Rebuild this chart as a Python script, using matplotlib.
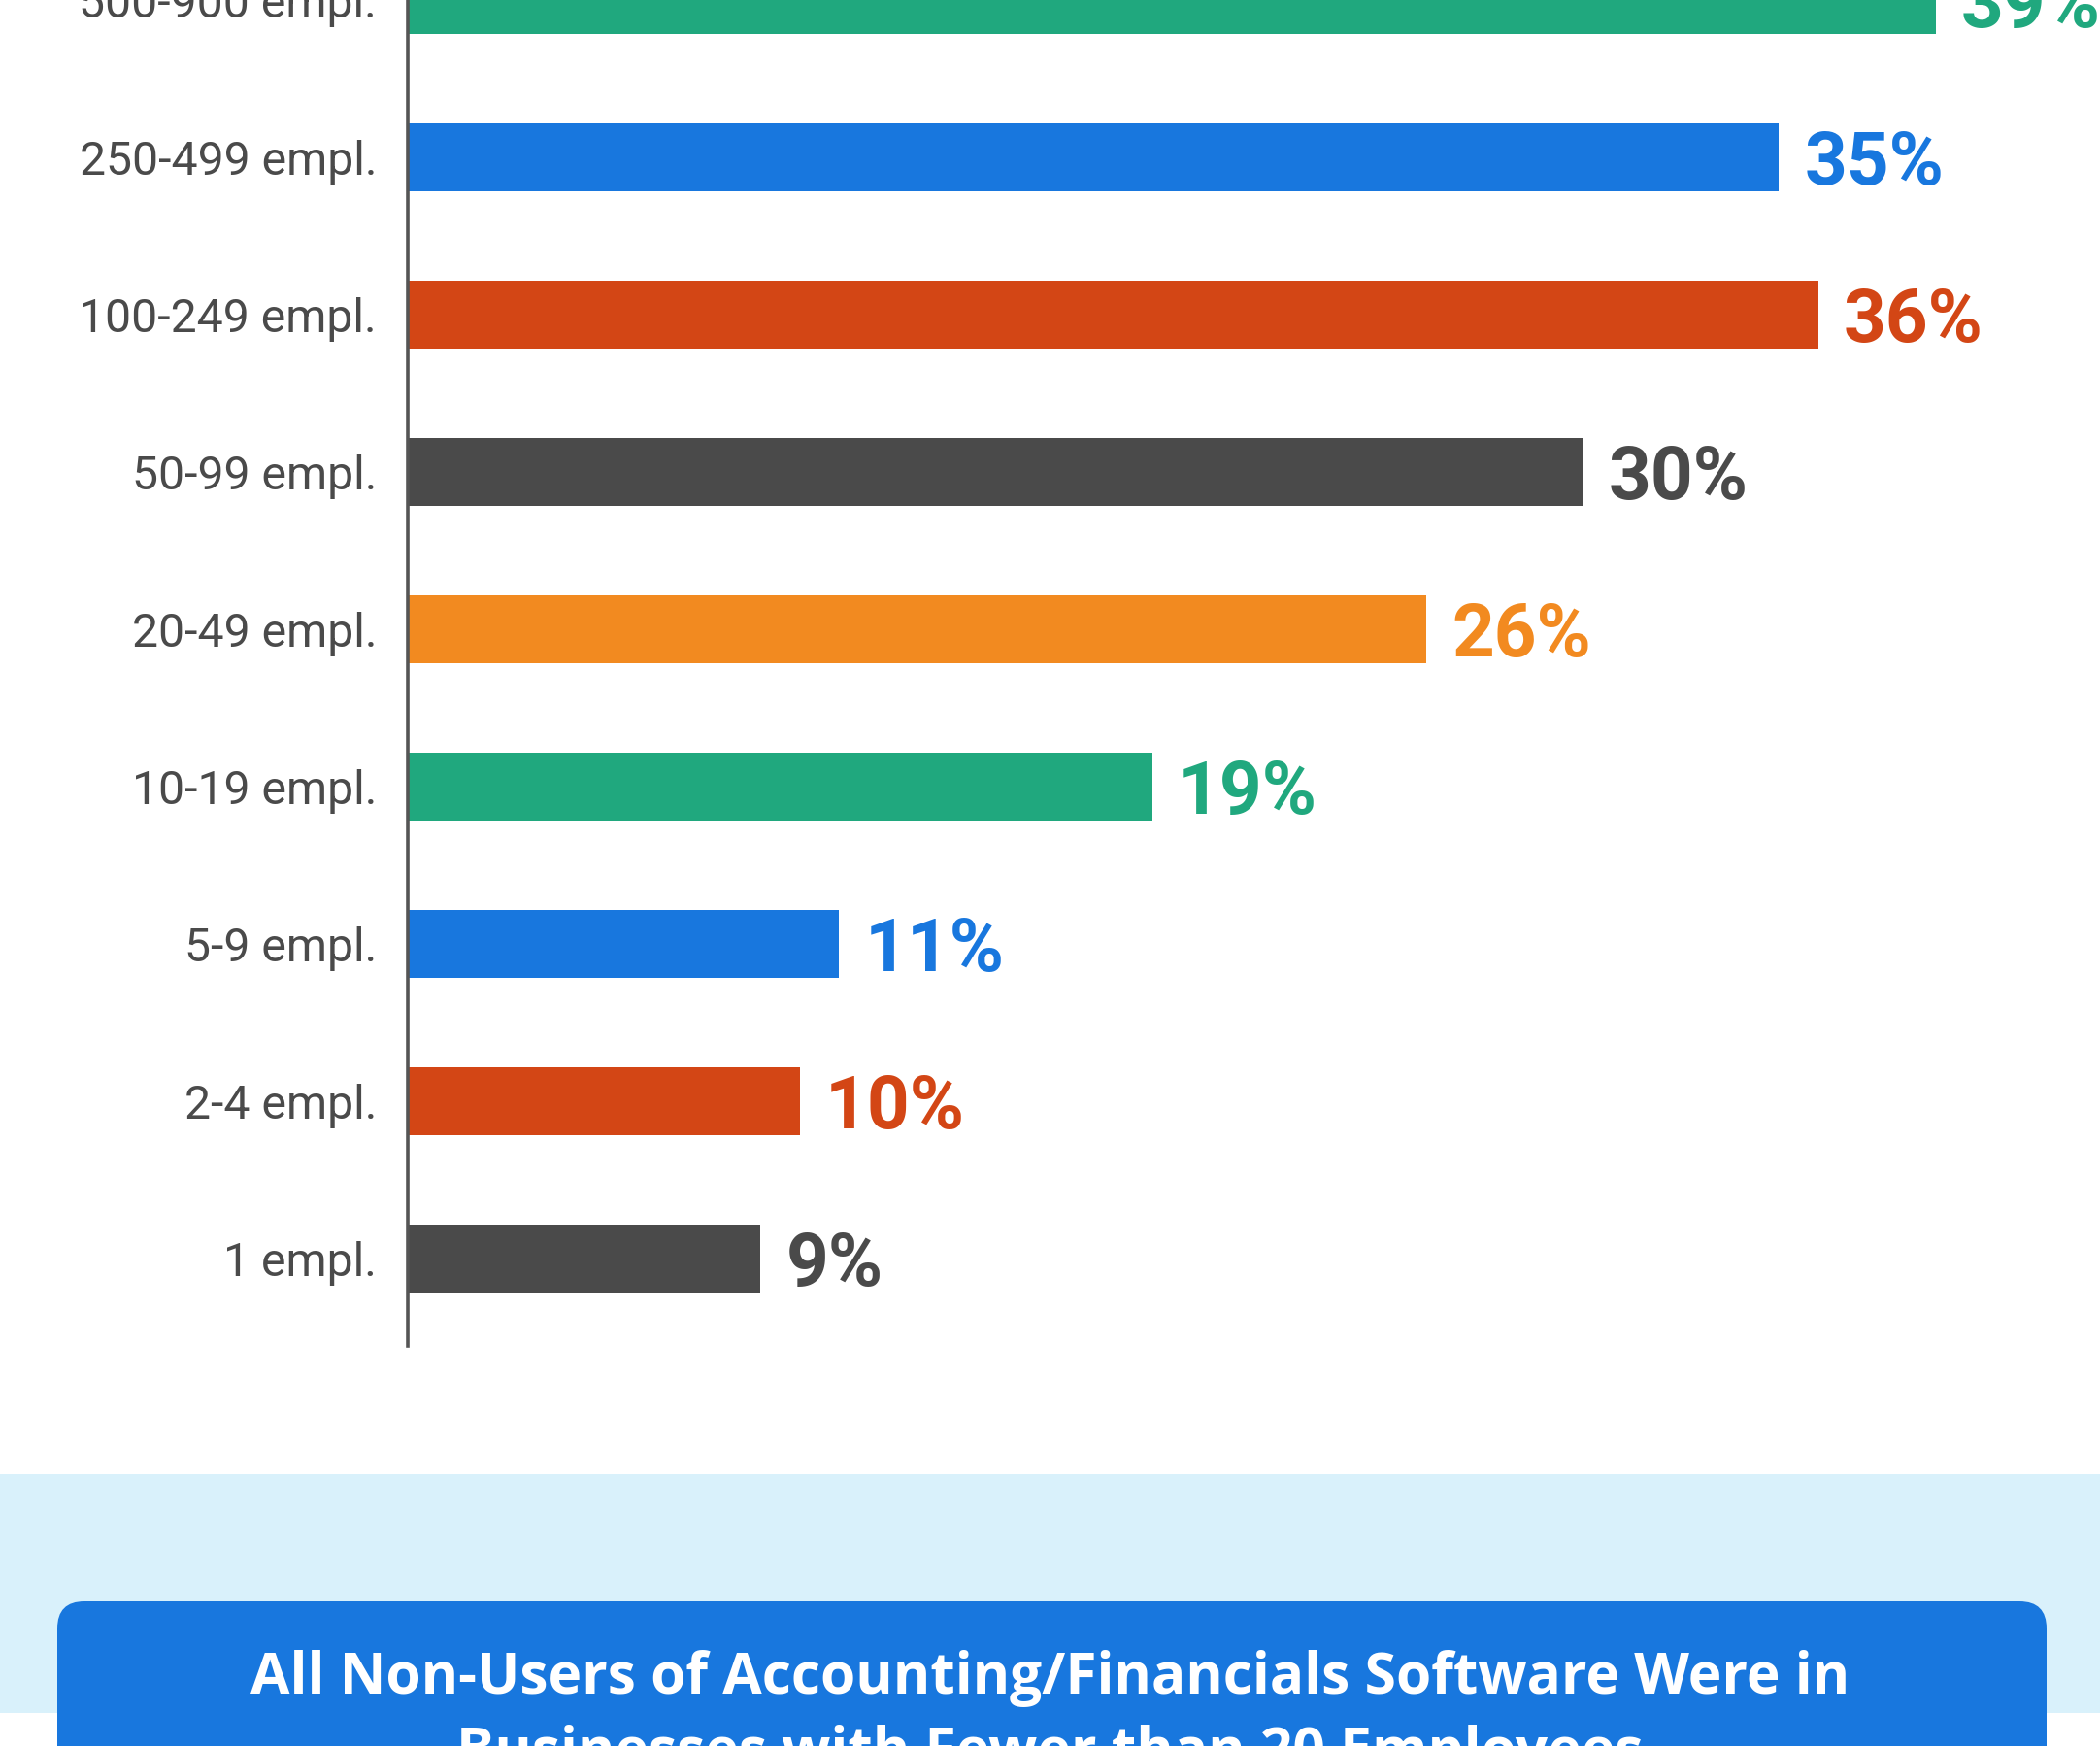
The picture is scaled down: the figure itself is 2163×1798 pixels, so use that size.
import matplotlib
matplotlib.use("Agg")
import matplotlib.pyplot as plt
from matplotlib.patches import FancyBboxPatch, Rectangle

# data, bottom to top
categories = ["1 empl.", "2-4 empl.", "5-9 empl.", "10-19 empl.", "20-49 empl.",
              "50-99 empl.", "100-249 empl.", "250-499 empl.", "500-900 empl."]
shares = [9, 10, 11, 19, 26, 30, 36, 35, 39]
bar_colors = ["#4a4a4a", "#d34615", "#1877de", "#20a87e", "#f28a20",
              "#4a4a4a", "#d34615", "#1877de", "#20a87e"]
title_lines = ["All Non-Users of Accounting/Financials Software Were in",
               "Businesses with Fewer than 20 Employees"]

W, H = 2163, 1798
fig = plt.figure(figsize=(W / 100, H / 100), dpi=100)
fig.patch.set_facecolor("white")

# background layer in pixel units
bg = fig.add_axes([0, 0, 1, 1], zorder=0)
bg.set_xlim(0, W)
bg.set_ylim(H, 0)
bg.axis("off")
bg.add_patch(Rectangle((0, 1518), W, 246, facecolor="#d9f1fb", edgecolor="none"))
bg.add_patch(FancyBboxPatch((59 + 28, 1649 + 28), 2108 - 59 - 56, 400,
                            boxstyle="round,pad=28,rounding_size=28",
                            facecolor="#1877de", edgecolor="none"))
bg.text(W / 2, 1744, title_lines[0], color="white", fontsize=42.2,
        fontfamily="Open Sans", fontweight="bold", ha="center", va="baseline")
bg.text(W / 2, 1821, title_lines[1], color="white", fontsize=42.2,
        fontfamily="Open Sans", fontweight="bold", ha="center", va="baseline")

# bar chart
ax = fig.add_axes([420 / W, 1 - 1386 / H, (W - 420) / W, 1386 / H], zorder=1)
ax.patch.set_alpha(0)
ypos = list(range(len(categories)))
ax.barh(ypos, shares, height=0.43, color=bar_colors)
ax.set_xlim(0, (W - 420) / 40.35)
ax.set_ylim(-0.555, 7.97)

for y, v, c in zip(ypos, shares, bar_colors):
    ax.annotate(f"{v}%", (v, y), xytext=(19, -20), textcoords="offset points",
                color=c, fontsize=55, fontfamily="Roboto", fontweight="bold",
                ha="left", va="baseline", annotation_clip=False)

ax.set_yticks(ypos)
ax.set_yticklabels(categories, fontsize=34.7, fontfamily="Roboto", color="#4a4a4a")
ax.tick_params(axis="y", length=0, pad=23)
ax.set_xticks([])
for s in ["top", "right", "bottom"]:
    ax.spines[s].set_visible(False)
ax.spines["left"].set_color("#555555")
ax.spines["left"].set_linewidth(2.6)

fig.savefig("out.png", dpi=100)
